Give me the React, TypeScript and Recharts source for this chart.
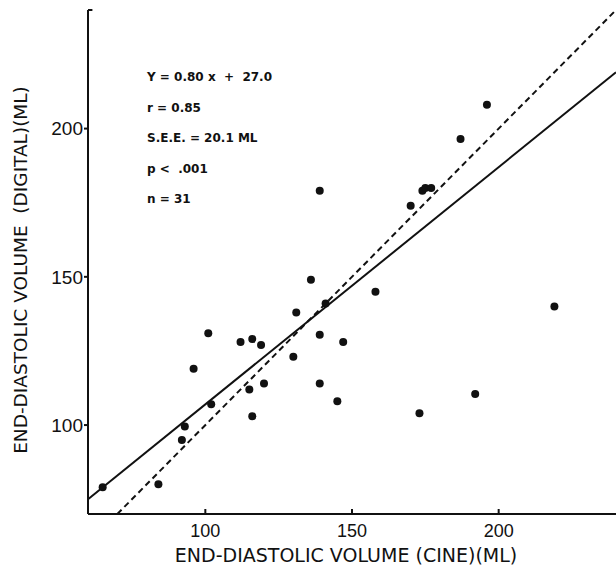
import React from "react";
import {
  ScatterChart,
  Scatter,
  XAxis,
  YAxis,
  ReferenceLine,
  Label,
  Customized,
} from "recharts";

// Measured data points: cine (x) vs digital (y) end-diastolic volume, ml
const cineVolumes = [
  65, 84, 92, 93, 96, 101, 102, 112, 116, 119, 115, 116, 120, 131, 130,
  136, 139, 139, 141, 147, 145, 158, 139, 196, 187, 174, 175, 177, 170,
  219, 192, 173,
];
const digitalVolumes = [
  79, 80, 95, 99.5, 119, 131, 107, 128, 129, 127, 112, 103, 114, 138, 123,
  149, 130.5, 114, 141, 128, 108, 145, 179, 208, 196.5, 179, 180, 180, 174,
  140, 110.5, 104,
];

const xTicks = [100, 150, 200];
const yTicks = [100, 150, 200];
const xDomain = [60, 240];
const yDomain = [70, 240];

// Regression line Y = 0.80x + 27.0 (endpoints) and line of identity
const regressionLine = [
  { x: 60, y: 75 },
  { x: 240, y: 219 },
];
const identityLine = [
  { x: 70, y: 70 },
  { x: 240, y: 240 },
];
const axisCap = [
  { x: 60, y: 240 },
  { x: 61.5, y: 240 },
];

const statLines = [
  "Y = 0.80 x  +  27.0",
  "r = 0.85",
  "S.E.E. = 20.1 ML",
  "p <  .001",
  "n = 31",
];

const xTitle = "END-DIASTOLIC VOLUME (CINE)(ML)";
const yTitle = "END-DIASTOLIC VOLUME  (DIGITAL)(ML)";

const points = cineVolumes.map((x, i) => ({ x, y: digitalVolumes[i] }));

const FONT = "'Liberation Sans', Arial, Helvetica, sans-serif";
const TFONT = "'DejaVu Sans', Verdana, sans-serif";

const StatsBlock = () => (
  <g>
    {statLines.map((t, i) => (
      <text
        key={i}
        x={147}
        y={77 + i * 30.5}
        fontFamily={TFONT}
        fontSize={12}
        fontWeight={700}
        fill="#111"
        dominantBaseline="central"
        style={{ whiteSpace: "pre" }}
      >
        {t}
      </text>
    ))}
  </g>
);

const YTitle = () => (
  <text
    x={20}
    y={270}
    transform="rotate(-90, 20, 270)"
    textAnchor="middle"
    dominantBaseline="central"
    fontFamily={TFONT}
    fontSize={18.5}
    fill="#111"
    style={{ whiteSpace: "pre" }}
  >
    {yTitle}
  </text>
);

export default function App() {
  return (
    <div style={{ position: "absolute", left: 0, top: 0, background: "#fff" }}>
      <ScatterChart
        width={616}
        height={569}
        margin={{ top: 10, right: 0, bottom: 0, left: 0 }}
      >
        <XAxis
          type="number"
          dataKey="x"
          domain={xDomain}
          ticks={xTicks}
          allowDataOverflow
          height={55}
          stroke="#111"
          strokeWidth={2}
          tickSize={-5}
          tickMargin={15}
          tick={{ fontSize: 18, fill: "#111", fontFamily: FONT }}
        >
          <Label
            value={xTitle}
            position="insideBottom"
            offset={7}
            dx={-6}
            style={{ fontSize: 19, fill: "#111", fontFamily: TFONT }}
          />
        </XAxis>
        <YAxis
          type="number"
          dataKey="y"
          domain={yDomain}
          ticks={yTicks}
          allowDataOverflow
          width={88}
          stroke="#111"
          strokeWidth={2}
          tickSize={4}
          tickMargin={1}
          tick={{ fontSize: 19, fill: "#111", fontFamily: FONT }}
        />
        <ReferenceLine segment={axisCap} stroke="#111" strokeWidth={2} />
        <ReferenceLine
          segment={identityLine}
          stroke="#111"
          strokeWidth={2}
          strokeDasharray="6 4"
          ifOverflow="hidden"
        />
        <ReferenceLine
          segment={regressionLine}
          stroke="#111"
          strokeWidth={2}
          ifOverflow="hidden"
        />
        <Scatter
          data={points}
          fill="#111"
          isAnimationActive={false}
          shape={(p: any) => <circle cx={p.cx} cy={p.cy} r={4} fill="#111" />}
        />
        <Customized component={StatsBlock} />
        <Customized component={YTitle} />
      </ScatterChart>
    </div>
  );
}
